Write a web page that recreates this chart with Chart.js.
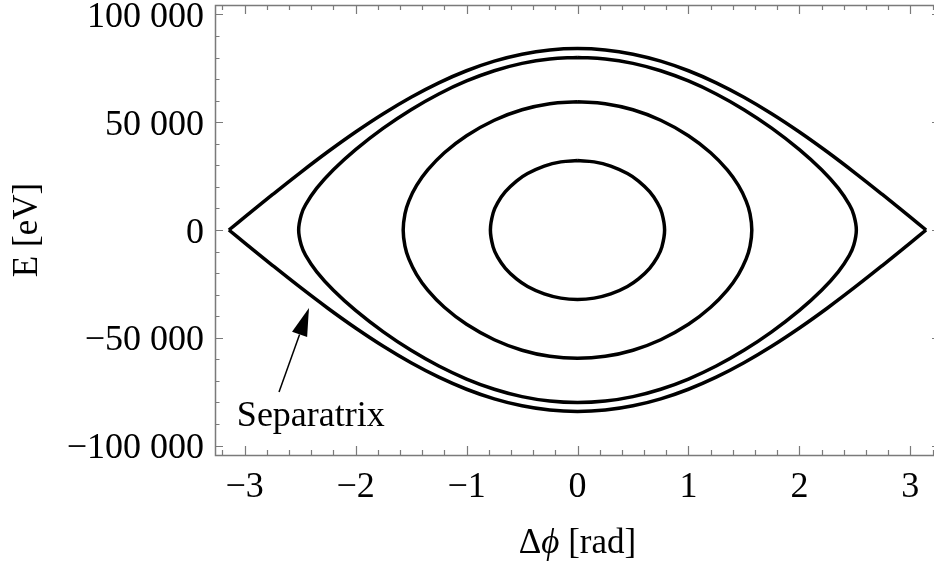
<!DOCTYPE html>
<html>
<head>
<meta charset="utf-8">
<script src="https://cdn.jsdelivr.net/npm/chart.js@4.4.1/dist/chart.umd.min.js"></script>
<style>
  body { margin: 0; overflow: hidden; background: #fff; }
  #wrap { position: relative; width: 944px; height: 568px; }
</style>
</head>
<body>
<div id="wrap"><canvas id="chart"></canvas></div>
<script>
// axis ticks
const xTicks = [-3, -2, -1, 0, 1, 2, 3];
const xTickLabels = ['\u22123', '\u22122', '\u22121', '0', '1', '2', '3'];
const yTicks = [-100000, -50000, 0, 50000, 100000];
const yTickLabels = ['\u2212100 000', '\u221250 000', '0', '50 000', '100 000'];

// separatrix
const sepPhi   = [-3.1416, -3.0, -2.75, -2.5, -2.25, -2.0, -1.75, -1.5, -1.25, -1.0, -0.75, -0.5, -0.25, 0,
                  0.25, 0.5, 0.75, 1.0, 1.25, 1.5, 1.75, 2.0, 2.25, 2.5, 2.75, 3.0, 3.1416];
const sepUpper = [0, 5950, 16380, 26550, 36310, 45490, 53970, 61610, 68290, 73890, 78350, 81580, 83540, 84200,
                  83540, 81580, 78350, 73890, 68290, 61610, 53970, 45490, 36310, 26550, 16380, 5950, 0];
const sepLower = [0, -5950, -16380, -26550, -36310, -45490, -53970, -61610, -68290, -73890, -78350, -81580, -83540, -84200,
                  -83540, -81580, -78350, -73890, -68290, -61610, -53970, -45490, -36310, -26550, -16380, -5950, 0];

// orbit with amplitude ~2.51 rad
const orbit1Phi   = [-2.513, -2.49, -2.45, -2.35, -2.2, -2.0, -1.75, -1.5, -1.25, -1.0, -0.75, -0.5, -0.25, 0,
                     0.25, 0.5, 0.75, 1.0, 1.25, 1.5, 1.75, 2.0, 2.2, 2.35, 2.45, 2.49, 2.513];
const orbit1Upper = [0, 6990, 11730, 19410, 27960, 37320, 47290, 55840, 63130, 69160, 73900, 77320, 79390, 80080,
                     79390, 77320, 73900, 69160, 63130, 55840, 47290, 37320, 27960, 19410, 11730, 6990, 0];
const orbit1Lower = [0, -6990, -11730, -19410, -27960, -37320, -47290, -55840, -63130, -69160, -73900, -77320, -79390, -80080,
                     -79390, -77320, -73900, -69160, -63130, -55840, -47290, -37320, -27960, -19410, -11730, -6990, 0];

// orbit with amplitude ~1.57 rad
const orbit2Phi   = [-1.571, -1.555, -1.52, -1.45, -1.35, -1.2, -1.0, -0.75, -0.5, -0.25, 0,
                     0.25, 0.5, 0.75, 1.0, 1.2, 1.35, 1.45, 1.52, 1.555, 1.571];
const orbit2Upper = [0, 7480, 13420, 20670, 27860, 35840, 43760, 50930, 55780, 58610, 59540,
                     58610, 55780, 50930, 43760, 35840, 27860, 20670, 13420, 7480, 0];
const orbit2Lower = [0, -7480, -13420, -20670, -27860, -35840, -43760, -50930, -55780, -58610, -59540,
                     -58610, -55780, -50930, -43760, -35840, -27860, -20670, -13420, -7480, 0];

// orbit with amplitude ~0.79 rad
const orbit3Phi   = [-0.785, -0.76, -0.72, -0.65, -0.55, -0.45, -0.3, -0.15, 0,
                     0.15, 0.3, 0.45, 0.55, 0.65, 0.72, 0.76, 0.785];
const orbit3Upper = [0, 7930, 12590, 17760, 22700, 26180, 29660, 31600, 32220,
                     31600, 29660, 26180, 22700, 17760, 12590, 7930, 0];
const orbit3Lower = [0, -7930, -12590, -17760, -22700, -26180, -29660, -31600, -32220,
                     -31600, -29660, -26180, -22700, -17760, -12590, -7930, 0];

// "Separatrix" label and its arrow (data coordinates)
const sepLabel = { phi: -3.07, E: -90900, text: 'Separatrix' };
const sepArrow = { fromPhi: -2.69, fromE: -75200, toPhi: -2.42, toE: -36200 };

const FONT = "'Liberation Serif', 'Times New Roman', serif";
const LINE = '#000';

function branch(phi, vals) {
  return phi.map((p, i) => ({ x: p, y: vals[i] }));
}

// closed contour: start on top at phi = 0, run clockwise and come back
function loop(phi, upper, lower) {
  const mid = phi.indexOf(0);
  const pts = [];
  const push = (x, y) => {
    const last = pts[pts.length - 1];
    if (last && last.x === x && last.y === y) return;
    pts.push({ x, y });
  };
  for (let i = mid; i < phi.length; i++) push(phi[i], upper[i]);
  for (let i = phi.length - 1; i >= 0; i--) push(phi[i], lower[i]);
  for (let i = 0; i <= mid; i++) push(phi[i], upper[i]);
  return pts;
}

const curve = data => ({
  data, showLine: true, borderColor: LINE, borderWidth: 3.5,
  pointRadius: 0, tension: 0.4, fill: false
});

const frame = {
  id: 'frame',
  afterDraw(chart) {
    const { ctx, chartArea: a, scales: { x, y } } = chart;
    ctx.save();

    // ticks on all four sides
    ctx.strokeStyle = '#7a7a7a';
    ctx.lineWidth = 1.2;
    ctx.beginPath();
    for (let k = -32; k <= 32; k += 2) {
      const px = Math.round(x.getPixelForValue(k / 10)) + 0.5;
      const len = k % 10 === 0 ? 9 : 5;
      ctx.moveTo(px, a.bottom); ctx.lineTo(px, a.bottom - len);
      ctx.moveTo(px, a.top); ctx.lineTo(px, a.top + len);
    }
    for (let k = -100000; k <= 100000; k += 10000) {
      const py = Math.round(y.getPixelForValue(k)) + 0.5;
      const len = k % 50000 === 0 ? 8 : 4.5;
      ctx.moveTo(a.left, py); ctx.lineTo(a.left + len, py);
      ctx.moveTo(a.right, py); ctx.lineTo(a.right - len, py);
    }
    ctx.stroke();

    ctx.lineWidth = 1.5;
    ctx.strokeRect(Math.round(a.left) + 0.5, Math.round(a.top) + 0.5,
                   Math.round(a.right - a.left), Math.round(a.bottom - a.top));

    // tick labels
    ctx.fillStyle = '#000';
    ctx.font = `36px ${FONT}`;
    ctx.textAlign = 'center';
    ctx.textBaseline = 'alphabetic';
    xTicks.forEach((v, i) => ctx.fillText(xTickLabels[i], x.getPixelForValue(v), a.bottom + 42));
    ctx.textAlign = 'right';
    yTicks.forEach((v, i) => ctx.fillText(yTickLabels[i], a.left - 11, y.getPixelForValue(v) + 12.5));

    // y title
    ctx.save();
    ctx.translate(37, (a.top + a.bottom) / 2);
    ctx.rotate(-Math.PI / 2);
    ctx.textAlign = 'center';
    ctx.font = `35px ${FONT}`;
    ctx.fillText('E [eV]', 0, 0);
    ctx.restore();

    // x title, phi in italics
    const parts = [['\u0394', `35px ${FONT}`], ['\u03d5', `italic 35px ${FONT}`], [' [rad]', `35px ${FONT}`]];
    let total = 0;
    parts.forEach(([t, f]) => { ctx.font = f; total += ctx.measureText(t).width; });
    let tx = (a.left + a.right) / 2 - total / 2;
    ctx.textAlign = 'left';
    parts.forEach(([t, f]) => {
      ctx.font = f;
      ctx.fillText(t, tx, 553);
      tx += ctx.measureText(t).width;
    });

    // separatrix annotation
    ctx.font = `36px ${FONT}`;
    ctx.fillText(sepLabel.text, x.getPixelForValue(sepLabel.phi), y.getPixelForValue(sepLabel.E));

    const x0 = x.getPixelForValue(sepArrow.fromPhi), y0 = y.getPixelForValue(sepArrow.fromE);
    const x1 = x.getPixelForValue(sepArrow.toPhi), y1 = y.getPixelForValue(sepArrow.toE);
    const ang = Math.atan2(y1 - y0, x1 - x0);
    const headLen = 28, headHalf = 8;
    const bx = x1 - headLen * Math.cos(ang), by = y1 - headLen * Math.sin(ang);
    ctx.strokeStyle = '#000';
    ctx.lineWidth = 1.5;
    ctx.beginPath();
    ctx.moveTo(x0, y0);
    ctx.lineTo(bx, by);
    ctx.stroke();
    ctx.beginPath();
    ctx.moveTo(x1, y1);
    ctx.lineTo(bx + headHalf * Math.sin(ang), by - headHalf * Math.cos(ang));
    ctx.lineTo(bx - headHalf * Math.sin(ang), by + headHalf * Math.cos(ang));
    ctx.closePath();
    ctx.fillStyle = '#000';
    ctx.fill();

    ctx.restore();
  }
};

new Chart(document.getElementById('chart'), {
  type: 'scatter',
  data: {
    datasets: [
      curve(branch(sepPhi, sepUpper)),
      curve(branch(sepPhi, sepLower)),
      curve(loop(orbit1Phi, orbit1Upper, orbit1Lower)),
      curve(loop(orbit2Phi, orbit2Upper, orbit2Lower)),
      curve(loop(orbit3Phi, orbit3Upper, orbit3Lower))
    ]
  },
  options: {
    responsive: true,
    maintainAspectRatio: false,
    animation: false,
    layout: { padding: { left: 215, top: 5, right: 4, bottom: 113 } },
    plugins: { legend: { display: false }, tooltip: { enabled: false } },
    scales: {
      x: { type: 'linear', min: -3.267, max: 3.267, display: false },
      y: { type: 'linear', min: -104400, max: 104400, display: false }
    }
  },
  plugins: [frame]
});
</script>
</body>
</html>
